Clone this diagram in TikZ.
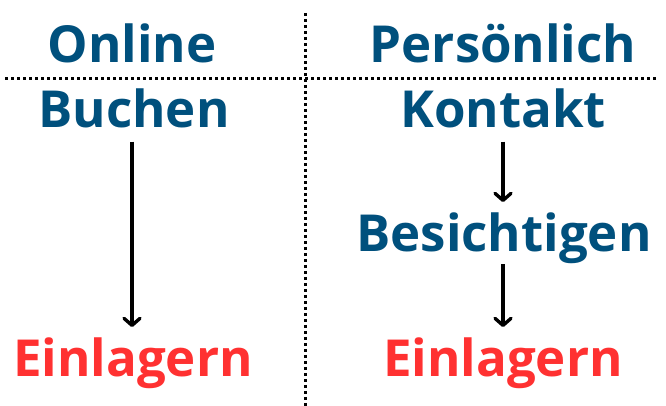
\documentclass[tikz,border=0pt]{standalone}
\usepackage{fontspec}
\setmainfont{Open Sans}
\usetikzlibrary{arrows.meta}
\definecolor{titleblue}{HTML}{00507D}
\definecolor{stepred}{HTML}{FF3131}
\tikzset{
  lbl/.style={font=\fontsize{51}{60}\selectfont\bfseries, inner sep=0pt, anchor=base},
  bluelbl/.style={lbl, text=titleblue},
  redlbl/.style={lbl, text=stepred},
  dotline/.style={line width=3pt, dash pattern=on 3pt off 3pt},
  flow/.style={line width=3.4pt, -{Straight Barb[length=7pt,width=16pt,line cap=round,line join=round]}}
}
\begin{document}
\begin{tikzpicture}[x=1pt,y=1pt]
\useasboundingbox (0,0) rectangle (666,406);
\fill[white] (0,0) rectangle (666,406);
% dotted separators
\coordinate (vtop) at (305,393);
\coordinate (vbot) at (305,0);
\coordinate (hl) at (5,327);
\coordinate (hr) at (656,327);
\draw[dotline] (vtop) -- (vbot);
\draw[dotline] (hl) -- (hr);
% labels
\node[bluelbl] (online) at (132,343) {Online};
\node[bluelbl] (buchen) at (134,278) {Buchen};
\node[redlbl] (einl1) at (133,29) {Einlagern};
\node[bluelbl] (pers) at (503,343) {Persönlich};
\node[bluelbl] (kontakt) at (503,278) {Kontakt};
\node[bluelbl] (besich) at (504,154) {Besichtigen};
\node[redlbl] (einl2) at (503,29) {Einlagern};
% arrows
\draw[flow, shorten <=13pt, shorten >=11pt] (buchen.south -| 132,0) -- (einl1.north -| 132,0);
\draw[flow, shorten <=13pt, shorten >=11pt] (kontakt.south -| 503,0) -- (besich.north -| 503,0);
\draw[flow, shorten <=0pt, shorten >=11pt] (besich.south -| 503,0) -- (einl2.north -| 503,0);
\end{tikzpicture}
\end{document}
